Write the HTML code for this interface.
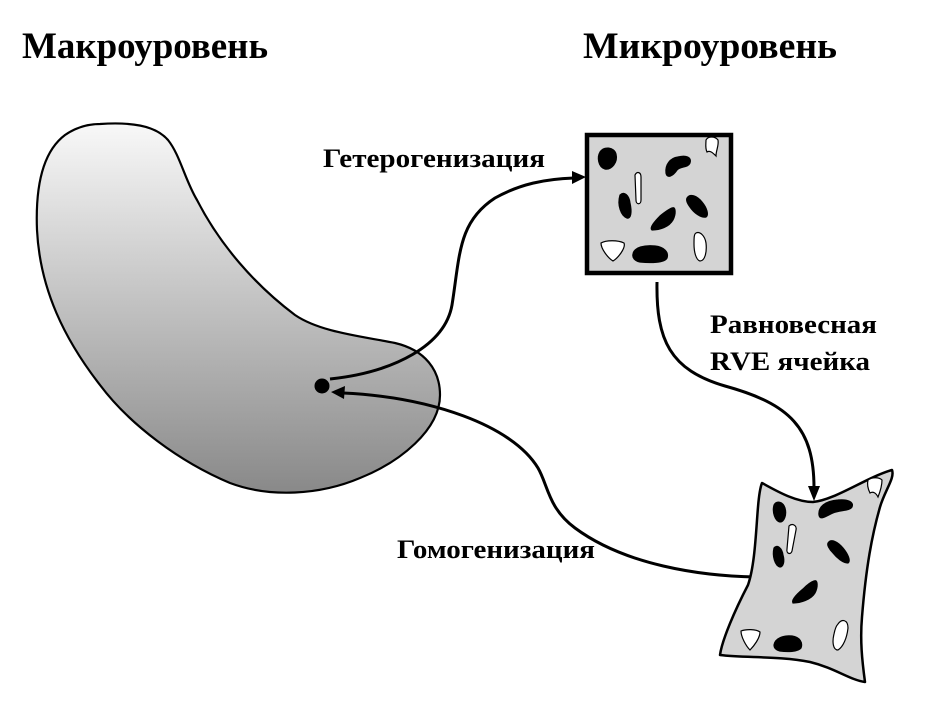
<!DOCTYPE html>
<html><head><meta charset="utf-8"><style>
html,body{margin:0;padding:0;background:#fff;}
svg{display:block;}
text{font-family:"Liberation Serif","DejaVu Serif",serif;font-weight:bold;fill:#000;}
</style></head><body>
<svg width="930" height="717" viewBox="0 0 930 717" xmlns="http://www.w3.org/2000/svg">
<defs>
<linearGradient id="g" x1="0" y1="124" x2="0" y2="495" gradientUnits="userSpaceOnUse">
<stop offset="0" stop-color="#f8f8f8"/>
<stop offset="1" stop-color="#888888"/>
</linearGradient>
</defs>

<text x="22" y="58" font-size="37" textLength="246" lengthAdjust="spacingAndGlyphs">Макроуровень</text>
<text x="583" y="58" font-size="37" textLength="254" lengthAdjust="spacingAndGlyphs">Микроуровень</text>

<!-- macro blob -->
<path d="M100,124 C130,122 155,125 168,140 C180,155 185,180 197,200 C220,245 255,285 295,315 C320,332 360,336 395,343 C425,350 440,370 440,395 C440,430 400,462 360,478 C320,495 270,498 230,483 C180,462 130,425 100,385 C65,340 40,290 37,230 C35,180 45,150 65,135 C78,126 90,124 100,124 Z" fill="url(#g)" stroke="#000" stroke-width="2.2"/>

<circle cx="322" cy="386" r="7.5" fill="#000"/>

<!-- heterogenization arrow -->
<path d="M330,379 C395,372 445,345 452,305 C460,255 458,222 495,198 C520,184 545,179 574,178" fill="none" stroke="#000" stroke-width="3"/>
<polygon points="586,177 572,171 572,184" fill="#000"/>

<!-- homogenization arrow -->
<path d="M756,577 C700,576 625,565 575,528 C548,508 548,485 538,468 C512,425 430,397 343,393" fill="none" stroke="#000" stroke-width="3"/>
<polygon points="331,392 345,386 344,399" fill="#000"/>

<!-- RVE arrow -->
<path d="M657,282 C656,340 670,370 725,386 C790,404 814,428 814,488" fill="none" stroke="#000" stroke-width="3"/>
<polygon points="814,501 808,486 820,486" fill="#000"/>

<!-- micro box -->
<rect x="587" y="135" width="144" height="138" fill="#d4d4d4" stroke="#000" stroke-width="4.5"/>
<g stroke="#000" stroke-width="1.2">
<path d="M600,152 C604,146 614,147 616,154 C618,162 612,170 605,169 C598,167 597,157 600,152 Z" fill="#000"/>
<path d="M635,175 C637,171 641,172 641,177 L641,200 C641,205 636,205 636,200 Z" fill="#fff"/>
<path d="M620,195 C624,191 629,195 630,203 C632,212 631,219 627,218 C621,216 617,205 620,195 Z" fill="#000"/>
<path d="M666,173 C665,165 670,158 678,157 C686,155 692,157 690,163 C688,168 680,166 677,170 C673,176 667,179 666,173 Z" fill="#000"/>
<path d="M706,140 C708,136 715,136 718,140 C719,146 716,150 716,156 C713,153 710,150 707,152 C705,148 706,144 706,140 Z" fill="#fff"/>
<path d="M687,198 C690,193 697,196 702,202 C707,208 709,215 706,217 C701,218 694,213 690,207 C687,203 686,200 687,198 Z" fill="#000"/>
<path d="M672,208 C676,206 676,214 673,220 C669,227 660,230 652,230 C649,228 655,221 660,216 C665,212 669,209 672,208 Z" fill="#000"/>
<path d="M601,243 C606,240 618,240 624,243 C626,248 618,258 613,261 C608,258 601,249 601,243 Z" fill="#fff"/>
<path d="M633,254 C634,247 645,245 655,246 C664,247 669,252 667,258 C665,263 650,263 640,262 C635,261 632,258 633,254 Z" fill="#000"/>
<path d="M696,233 C700,231 705,236 706,243 C707,252 705,261 700,261 C696,260 694,252 694,244 C694,238 694,234 696,233 Z" fill="#fff"/>
</g>

<!-- deformed cell -->
<path d="M762,483 C775,490 795,502 813,502 C835,500 865,478 892,470 C895,478 885,490 880,507 C872,535 866,567 862,617 C860,640 862,660 865,682 C850,680 835,668 810,662 C780,656 745,658 720,655 C722,640 735,610 748,585 C755,565 756,530 758,507 C759,495 760,488 762,483 Z" fill="#d4d4d4" stroke="#000" stroke-width="2.5" stroke-linejoin="round"/>
<g stroke="#000" stroke-width="1.2">
<path d="M774,505 C777,500 783,502 785,508 C787,515 784,522 780,522 C775,521 772,512 774,505 Z" fill="#000"/>
<path d="M819,515 C818,507 825,501 838,500 C848,499 854,502 852,507 C850,511 840,510 833,513 C826,516 820,521 819,515 Z" fill="#000"/>
<path d="M789,526 C792,523 797,525 796,530 L792,551 C791,555 786,554 787,549 Z" fill="#fff"/>
<path d="M774,548 C777,544 782,548 783,555 C785,562 783,567 780,567 C775,566 772,556 774,548 Z" fill="#000"/>
<path d="M828,543 C831,538 838,542 843,548 C848,554 851,561 848,563 C843,563 837,558 833,553 C829,549 827,545 828,543 Z" fill="#000"/>
<path d="M814,581 C818,579 818,587 815,593 C811,600 800,603 793,603 C791,600 797,594 803,589 C807,585 811,582 814,581 Z" fill="#000"/>
<path d="M741,631 C746,629 756,629 760,632 C760,638 754,646 750,650 C746,646 741,637 741,631 Z" fill="#fff"/>
<path d="M774,645 C775,638 784,635 792,636 C800,637 803,643 801,648 C798,652 787,652 780,651 C776,650 774,648 774,645 Z" fill="#000"/>
<path d="M838,624 C842,618 848,620 848,628 C847,638 843,647 838,650 C833,650 832,642 834,634 C835,629 836,626 838,624 Z" fill="#fff"/>
<path d="M868,480 C872,477 879,477 882,480 C882,486 880,492 878,497 C876,493 873,491 870,493 C868,489 867,484 868,480 Z" fill="#fff"/>
</g>

<text x="323" y="167" font-size="26" textLength="222" lengthAdjust="spacingAndGlyphs">Гетерогенизация</text>
<text x="710" y="333" font-size="26" textLength="167" lengthAdjust="spacingAndGlyphs">Равновесная</text>
<text x="710" y="370" font-size="26" textLength="160" lengthAdjust="spacingAndGlyphs">RVE ячейка</text>
<text x="397" y="558" font-size="26" textLength="198" lengthAdjust="spacingAndGlyphs">Гомогенизация</text>
</svg>
</body></html>
